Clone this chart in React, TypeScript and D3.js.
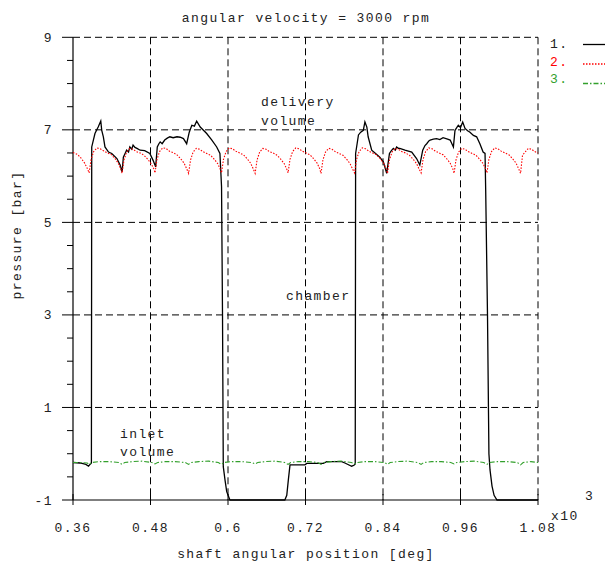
import React from "react";
import * as d3 from "d3";

// ---- data (x in degrees, y in bar) ----
const chamberDeg = [360, 371, 380, 384, 387, 388.5, 389, 394, 399, 403, 404.5, 407, 409.5, 415, 420, 428, 433, 436, 438, 441, 443, 446, 448, 451, 453, 456, 459, 464, 471, 479, 484, 488, 490.5, 493, 495, 498, 502, 506, 510, 515, 521, 526, 531, 536, 540, 544, 548, 551.5, 557, 562, 567, 575, 582.5, 587.5, 590, 591.5, 592.7, 595.4, 598, 603, 688, 691, 693.4, 696, 698.6, 719, 722, 747.6, 752.8, 776, 781, 791.5, 795, 797, 797.6, 802, 805.5, 809.5, 812, 815, 817, 822.5, 827.6, 835, 840.5, 845.7, 850, 853, 856, 859, 861, 864, 866, 874, 884.5, 892, 897, 901.5, 905, 907.7, 911, 913, 918, 923, 928, 933, 940, 944, 949, 951.5, 956.6, 960, 963.4, 967, 971, 974.7, 980, 985, 990, 995, 998, 999, 1001.8, 1004, 1005.7, 1008.8, 1012, 1016.5, 1080];
const chamberBar = [-0.19, -0.2, -0.23, -0.27, -0.22, -0.2, 6.63, 6.92, 7.06, 7.19, 6.99, 6.85, 6.63, 6.52, 6.49, 6.38, 6.24, 6.09, 6.41, 6.5, 6.56, 6.52, 6.63, 6.58, 6.67, 6.62, 6.6, 6.56, 6.55, 6.49, 6.34, 6.2, 6.63, 6.7, 6.74, 6.7, 6.78, 6.82, 6.85, 6.83, 6.85, 6.84, 6.81, 6.7, 6.95, 7.1, 7.08, 7.19, 7.06, 6.99, 6.92, 6.78, 6.63, 6.49, 5.77, 3.0, -0.28, -0.57, -0.82, -1.0, -1.0, -0.9, -0.57, -0.24, -0.24, -0.24, -0.21, -0.21, -0.17, -0.17, -0.2, -0.27, -0.25, -0.22, 6.49, 6.89, 6.95, 6.99, 7.17, 7.06, 6.85, 6.56, 6.5, 6.41, 6.31, 6.06, 6.49, 6.55, 6.6, 6.56, 6.63, 6.6, 6.6, 6.56, 6.52, 6.38, 6.24, 6.56, 6.66, 6.7, 6.76, 6.78, 6.8, 6.81, 6.79, 6.83, 6.8, 6.78, 6.63, 6.99, 7.1, 7.05, 7.17, 7.03, 6.98, 6.95, 6.88, 6.85, 6.7, 6.52, 6.49, 5.7, 3.0, 0.0, -0.35, -0.7, -0.9, -1.0, -1.0];

const deliveryDeg = [360, 367, 373, 378, 382,
  385, 388, 392, 397, 402, 407, 413, 419, 425, 430, 434,
  436, 439, 443, 448, 453, 458, 464, 470, 476, 481, 485,
  487, 490, 494, 499, 504, 509, 515, 521, 527, 532, 536,
  539, 542, 546, 551, 556, 561, 567, 573, 579, 584, 588,
  590, 593, 597, 602, 607, 612, 618, 624, 630, 635, 639,
  642, 645, 649, 654, 659, 664, 670, 676, 682, 687, 691,
  693, 696, 700, 705, 710, 715, 721, 727, 733, 738, 742,
  744, 747, 751, 756, 761, 766, 772, 778, 784, 789, 793,
  796, 799, 803, 808, 813, 818, 824, 830, 836, 841, 845,
  847, 850, 854, 859, 864, 869, 875, 881, 887, 892, 896,
  899, 902, 906, 911, 916, 921, 927, 933, 939, 944, 948,
  950, 953, 957, 962, 967, 972, 978, 984, 990, 995, 999,
  1001, 1004, 1008, 1013, 1018, 1023, 1029, 1035, 1041, 1046, 1050,
  1053, 1056, 1060, 1065, 1070, 1075, 1080];
const deliveryBar = [6.51, 6.47, 6.38, 6.28, 6.17,
  6.07, 6.36, 6.53, 6.61, 6.59, 6.55, 6.5, 6.47, 6.38, 6.28, 6.15,
  6.06, 6.35, 6.52, 6.6, 6.58, 6.53, 6.5, 6.45, 6.36, 6.27, 6.16,
  6.07, 6.36, 6.53, 6.61, 6.6, 6.54, 6.51, 6.46, 6.37, 6.28, 6.16,
  6.06, 6.35, 6.52, 6.6, 6.58, 6.53, 6.49, 6.45, 6.36, 6.27, 6.15,
  6.07, 6.36, 6.53, 6.61, 6.59, 6.54, 6.5, 6.46, 6.37, 6.28, 6.16,
  6.06, 6.35, 6.52, 6.6, 6.58, 6.53, 6.5, 6.45, 6.36, 6.27, 6.15,
  6.07, 6.36, 6.53, 6.61, 6.59, 6.54, 6.5, 6.46, 6.37, 6.28, 6.16,
  6.06, 6.35, 6.52, 6.6, 6.58, 6.53, 6.49, 6.45, 6.36, 6.27, 6.15,
  6.07, 6.36, 6.53, 6.61, 6.59, 6.54, 6.5, 6.46, 6.37, 6.28, 6.16,
  6.06, 6.35, 6.52, 6.6, 6.58, 6.53, 6.5, 6.45, 6.36, 6.27, 6.15,
  6.07, 6.36, 6.53, 6.61, 6.59, 6.54, 6.5, 6.46, 6.37, 6.28, 6.16,
  6.06, 6.35, 6.52, 6.6, 6.58, 6.53, 6.49, 6.45, 6.36, 6.27, 6.15,
  6.07, 6.36, 6.53, 6.61, 6.59, 6.54, 6.5, 6.46, 6.37, 6.28, 6.16,
  6.06, 6.45, 6.52, 6.6, 6.58, 6.53, 6.5];

const inletDeg = [360, 372, 382,
  385, 389, 401, 416, 431,
  436, 440, 452, 467, 482,
  487, 491, 503, 518, 534,
  539, 543, 555, 570, 585,
  590, 594, 606, 621, 637,
  642, 646, 658, 673, 688,
  693, 697, 709, 724, 739,
  744, 748, 760, 775, 791,
  796, 800, 812, 827, 842,
  847, 851, 863, 878, 894,
  899, 903, 915, 930, 945,
  950, 954, 966, 981, 996,
  1001, 1005, 1017, 1032, 1048,
  1053, 1057, 1069, 1080];
const inletBar = [-0.19, -0.19, -0.2,
  -0.23, -0.19, -0.17, -0.17, -0.19,
  -0.23, -0.19, -0.17, -0.16, -0.19,
  -0.22, -0.19, -0.17, -0.17, -0.19,
  -0.23, -0.19, -0.17, -0.16, -0.19,
  -0.23, -0.19, -0.17, -0.17, -0.19,
  -0.22, -0.19, -0.17, -0.16, -0.19,
  -0.23, -0.19, -0.17, -0.17, -0.19,
  -0.23, -0.19, -0.17, -0.16, -0.19,
  -0.22, -0.19, -0.17, -0.17, -0.19,
  -0.23, -0.19, -0.17, -0.16, -0.19,
  -0.23, -0.19, -0.17, -0.17, -0.19,
  -0.22, -0.19, -0.17, -0.16, -0.19,
  -0.23, -0.19, -0.17, -0.17, -0.19,
  -0.24, -0.19, -0.17, -0.19];

const xTickValues = [360, 480, 600, 720, 840, 960, 1080];
const xTickLabels = ["0.36", "0.48", "0.6", "0.72", "0.84", "0.96", "1.08"];
const yTickValues = [-1, 1, 3, 5, 7, 9];
const yTickLabels = ["-1", "1", "3", "5", "7", "9"];
const yMinorValues = d3.range(-1, 9.001, 0.5);

const seriesNames = ["1.", "2.", "3."];
const seriesColors = ["#000000", "#ff0000", "#33a02c"];
const seriesDash = ["none", "1.5 1.5", "5 2 1.5 2"];

const titleText = "angular velocity = 3000 rpm";
const xLabel = "shaft angular position [deg]";
const yLabel = "pressure [bar]";

export default function App() {
  const W = 607, H = 565;
  const left = 73, right = 538, top = 37.3, bottom = 500;
  const x = d3.scaleLinear().domain([360, 1080]).range([left, right]);
  const y = d3.scaleLinear().domain([-1, 9]).range([bottom, top]);

  const line = d3.line<[number, number]>().x(d => x(d[0])).y(d => y(d[1]));
  const zip = (a: number[], b: number[]) => a.map((v, i) => [v, b[i]] as [number, number]);
  const series = [zip(chamberDeg, chamberBar), zip(deliveryDeg, deliveryBar), zip(inletDeg, inletBar)];

  const font = "'Liberation Mono', 'DejaVu Sans Mono', monospace";
  const txt = { fontFamily: font, fontSize: 13, letterSpacing: 1.4, fill: "#222" } as any;
  const grid = "7 4";

  return (
    <svg width={W} height={H} style={{ position: "absolute", left: 0, top: 0, background: "#fff" }}>
      <rect x={0} y={0} width={W} height={H} fill="#fff" />
      {yTickValues.filter(v => v !== -1).map(v => (
        <line key={"gy" + v} x1={left} x2={right} y1={y(v)} y2={y(v)} stroke="#000" strokeDasharray={grid} strokeWidth={1} />
      ))}
      {xTickValues.filter(v => v !== 360).map(v => (
        <line key={"gx" + v} x1={x(v)} x2={x(v)} y1={top} y2={bottom} stroke="#000" strokeDasharray={grid} strokeWidth={1} />
      ))}
      <line x1={left} x2={left} y1={top} y2={bottom} stroke="#000" strokeWidth={1.2} />
      <line x1={left} x2={right} y1={bottom} y2={bottom} stroke="#000" strokeWidth={1.2} />
      {yTickValues.map(v => (
        <line key={"ty" + v} x1={left - 11} x2={left} y1={y(v)} y2={y(v)} stroke="#000" strokeWidth={1} />
      ))}
      {yMinorValues.filter(v => Math.abs(v - Math.round(v)) > 0.1 || Math.round(v) % 2 === 0).map(v => (
        <line key={"my" + v} x1={left - 6} x2={left} y1={y(v)} y2={y(v)} stroke="#000" strokeWidth={1} />
      ))}
      {xTickValues.map(v => (
        <line key={"tx" + v} x1={x(v)} x2={x(v)} y1={bottom - 6} y2={bottom + 5} stroke="#000" strokeWidth={1} />
      ))}
      {yTickValues.map((v, i) => (
        <text key={"ly" + v} x={53} y={y(v) + 4.5} textAnchor="end" style={txt}>{yTickLabels[i]}</text>
      ))}
      {xTickValues.map((v, i) => (
        <text key={"lx" + v} x={x(v)} y={532} textAnchor="middle" style={txt}>{xTickLabels[i]}</text>
      ))}
      <text x={551} y={520} style={txt}>x10</text>
      <text x={585} y={500} style={txt}>3</text>
      {series.map((s, i) => (
        <path key={"s" + i} d={line(s) || ""} fill="none" stroke={seriesColors[i]} strokeWidth={i === 0 ? 1.3 : 1.1} strokeDasharray={seriesDash[i]} />
      ))}
      {seriesNames.map((n, i) => (
        <g key={"lg" + i}>
          <text x={550} y={48 + i * 17.5} style={{ ...txt, fill: i === 0 ? "#222" : seriesColors[i] }}>{n}</text>
          <line x1={583} x2={605} y1={44.5 + i * 19.5} y2={44.5 + i * 19.5} stroke={seriesColors[i]} strokeWidth={1.3} strokeDasharray={seriesDash[i]} />
        </g>
      ))}
      <text x={261} y={106} style={txt}>delivery</text>
      <text x={261} y={125} style={txt}>volume</text>
      <text x={286} y={300} style={txt}>chamber</text>
      <text x={120} y={438} style={txt}>inlet</text>
      <text x={120} y={456} style={txt}>volume</text>
      <text x={306} y={22} textAnchor="middle" style={txt}>{titleText}</text>
      <text x={306} y={558} textAnchor="middle" style={txt}>{xLabel}</text>
      <text transform={`translate(21,235) rotate(-90)`} textAnchor="middle" style={txt}>{yLabel}</text>
    </svg>
  );
}
